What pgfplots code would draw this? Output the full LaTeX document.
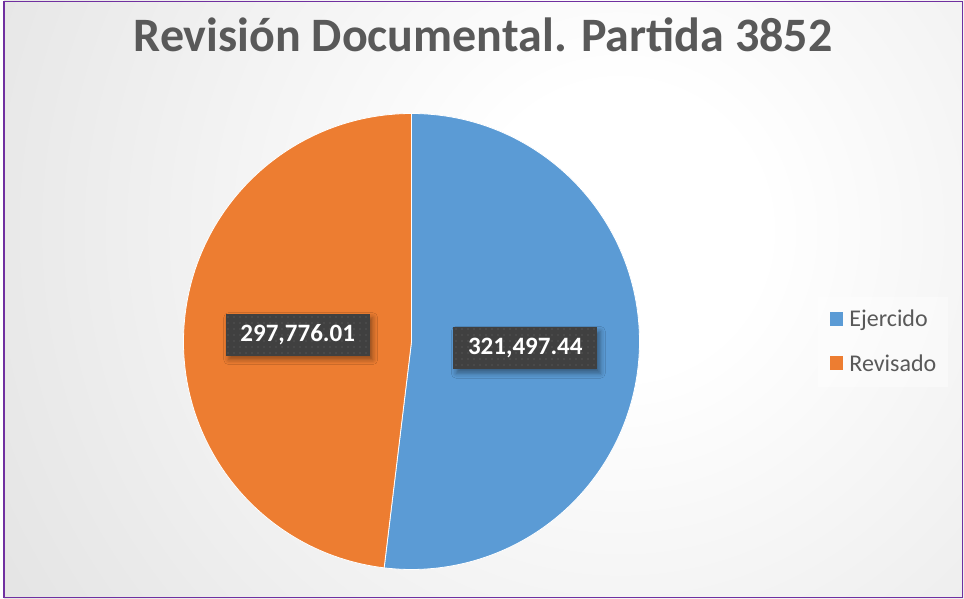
\documentclass[border=0pt]{standalone}
\usepackage{fontspec}
\setmainfont{Carlito}
\usepackage{pgfplots}
\usepackage{pgfplotstable}
\pgfplotsset{compat=1.18}
\usetikzlibrary{shadows.blur,patterns.meta}

\definecolor{ejercido}{HTML}{5B9BD5}
\definecolor{revisado}{HTML}{ED7D31}
\definecolor{txtgray}{HTML}{595959}
\definecolor{lblbox}{HTML}{404040}
\definecolor{framepurple}{HTML}{7030A0}

% chart area background (radial, white towards the plot)
\pgfdeclareradialshading{chartbg}{\pgfpoint{0bp}{0bp}}{%
  rgb(0bp)=(1,1,1); rgb(5bp)=(1,1,1); rgb(20bp)=(0.92,0.92,0.92); rgb(50bp)=(0.77,0.77,0.77)}

\pgfplotstableread{
name value
Ejercido 321497.44
Revisado 297776.01
}\piedata

\pgfplotstablegetelem{0}{value}\of\piedata \let\vA\pgfplotsretval
\pgfplotstablegetelem{1}{value}\of\piedata \let\vB\pgfplotsretval

% angles (pie starts at 12 o'clock, clockwise)
\edef\angA{\fpeval{360*\vA/(\vA+\vB)}}
\edef\endA{\fpeval{90-\angA}}
\edef\midA{\fpeval{90-\angA/2}}
\edef\midB{\fpeval{(90-\angA-270)/2}}
% centre and radius, in px
\def\cx{411.5}
\def\cy{257.5}
\def\rr{228}
\edef\lAx{\fpeval{\cx+0.5*\rr*cosd(\midA)}}
\edef\lAy{\fpeval{\cy+0.5*\rr*sind(\midA)}}
\edef\lBx{\fpeval{\cx+0.5*\rr*cosd(\midB)}}
\edef\lBy{\fpeval{\cy+0.5*\rr*sind(\midB)}}

\begin{document}
\begin{tikzpicture}[
    lbl/.style={fill=lblbox, text=white,
      font=\bfseries\fontsize{25}{30}\selectfont,
      minimum width=144pt, minimum height=42pt, inner sep=0pt,
      blur shadow={shadow xshift=3pt, shadow yshift=-4pt,
        shadow blur radius=5pt, shadow opacity=40},
      postaction={pattern={Dots[distance=6pt, radius=0.9pt]}, pattern color=black!67}}
  ]
  \begin{axis}[
      x=1pt, y=1pt,
      xmin=0, xmax=964, ymin=0, ymax=599,
      hide axis, clip=false,
      legend image code/.code={\fill[#1, draw=none] (0pt,-7pt) rectangle (13pt,7pt); \path (17pt,0pt);},
      legend style={draw=none, fill=none, at={(axis cs:818,301)}, anchor=north west,
        inner xsep=12pt, inner ysep=10pt, row sep=22pt,
        font=\fontsize{24}{27}\selectfont, text=txtgray,
        cells={anchor=west}},
      /pgf/number format/.cd, fixed, fixed zerofill, precision=2,
        1000 sep={,}, assume math mode=true
    ]
    % background and frame
    \fill[white] (axis cs:0,0) rectangle (axis cs:964,599);
    \begin{scope}
      \clip (axis cs:4,0) rectangle (axis cs:964,599);
      \shade[shading=chartbg] (axis cs:620,369) circle[radius=720pt];
    \end{scope}
    \draw[framepurple, line width=1.5pt] (axis cs:4,597.5) rectangle (axis cs:962.5,1.5);

    % title
    \node[anchor=base, text=txtgray, font=\bfseries\fontsize{48}{56}\selectfont]
      at (axis cs:483,547.3) {Revisión Documental. Partida 3852};

    % legend panel
    \fill[white, opacity=0.4] (axis cs:818,302) rectangle (axis cs:948,212);

    % slices
    \fill[ejercido, draw=white, line width=0.8pt] (axis cs:\cx,\cy) -- ++(90:\rr pt)
      arc[start angle=90, end angle=\endA, radius=\rr pt] -- cycle;
    \fill[revisado, draw=white, line width=0.8pt] (axis cs:\cx,\cy) -- ++(\endA:\rr pt)
      arc[start angle=\endA, end angle=-270, radius=\rr pt] -- cycle;

    % data labels
    \node[lbl] at (axis cs:\lAx,\lAy) {\pgfmathprintnumber{\vA}};
    \node[lbl] at (axis cs:\lBx,\lBy) {\pgfmathprintnumber{\vB}};

    \addlegendimage{fill=ejercido}
    \addlegendentry{Ejercido}
    \addlegendimage{fill=revisado}
    \addlegendentry{Revisado}
  \end{axis}
\end{tikzpicture}
\end{document}
